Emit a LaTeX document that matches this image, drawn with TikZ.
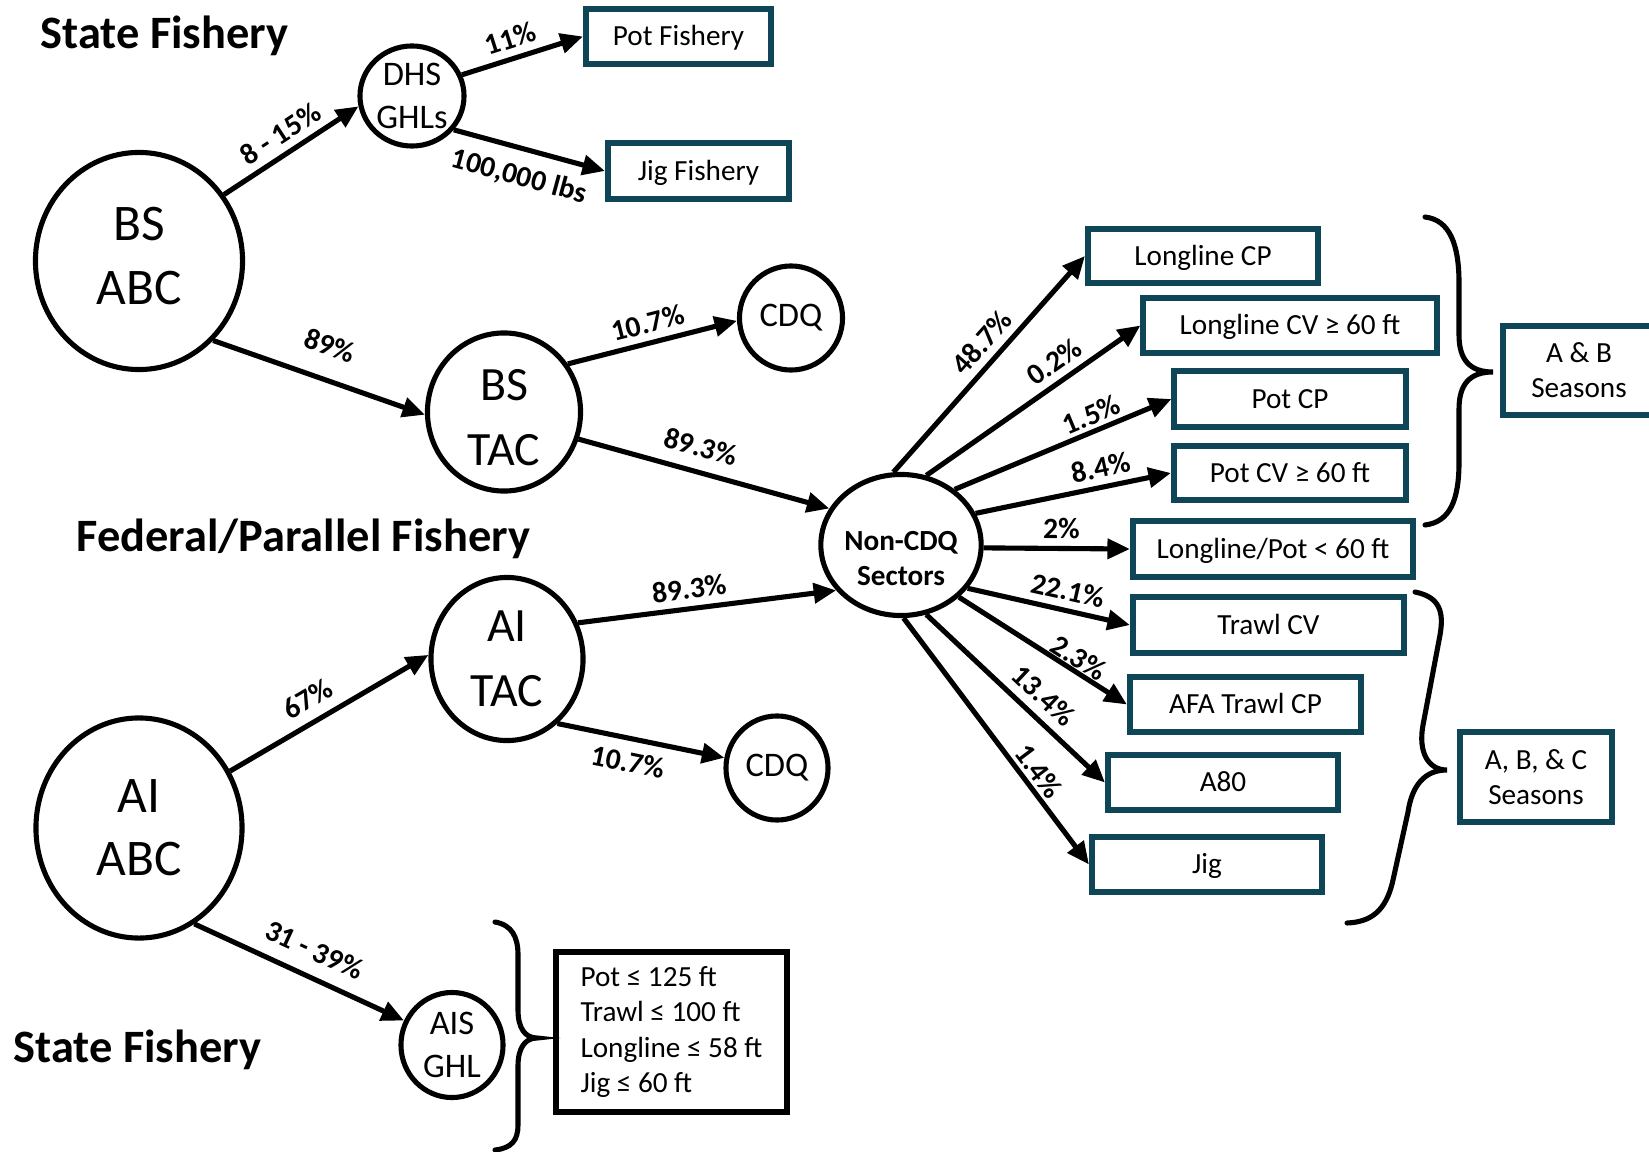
\documentclass[tikz,border=0pt]{standalone}
\usepackage{fontspec}
\setmainfont{Carlito}
\usetikzlibrary{arrows.meta,shapes.geometric}
\definecolor{boxteal}{HTML}{0E4557}

\begin{document}
\begin{tikzpicture}[x=0.01cm,y=-0.01cm,
	circ/.style={ellipse,draw,line width=1.45pt,inner sep=0pt,align=center},
	abctxt/.style={font=\fontsize{14.6}{18}\selectfont},
	tactxt/.style={font=\fontsize{13.6}{18.5}\selectfont},
	smalltxt/.style={font=\fontsize{9.8}{12.2}\selectfont},
	seasbox/.style={draw=boxteal,line width=1.7pt,inner sep=0pt,align=center,font=\fontsize{8.3}{10}\selectfont},
	sbox/.style={seasbox,text height=6.5pt,text depth=1.2pt},
	title/.style={anchor=base west,inner sep=0pt,font=\bfseries\fontsize{13.2}{16}\selectfont},
	arr/.style={line width=1.45pt,-{Triangle[length=6.4pt,width=5.6pt]}},
	lbl/.style={sloped,inner sep=2pt,font=\bfseries\fontsize{8.4}{10}\selectfont},
	brace/.style={line width=1.45pt,line cap=round}]

	\useasboundingbox (0,0) rectangle (1649,1152);

	% titles
	\node[title] (stateA) at (40,49) {State Fishery};
	\node[title] (federal) at (76,551) {Federal/Parallel Fishery};
	\node[title] (stateB) at (13,1062) {State Fishery};

	% circles
	\node[circ,abctxt,minimum width=2.07cm,minimum height=2.17cm] (bsabc) at (139,261) {BS\\ABC\rule[-3pt]{0pt}{1pt}};
	\node[circ,smalltxt,minimum width=1.04cm,minimum height=1.00cm] (dhs) at (412,96) {DHS\\GHLs};
	\node[circ,tactxt,minimum width=1.53cm,minimum height=1.58cm] (bstac) at (504,412) {\rule{0pt}{12pt}BS\\TAC};
	\node[circ,smalltxt,minimum width=1.03cm,minimum height=1.04cm] (cdqA) at (791,318) {CDQ};
	\node[circ,minimum width=1.52cm,minimum height=1.41cm,font=\bfseries\fontsize{8.3}{10}\selectfont] (noncdq) at (901,545) {\rule{0pt}{13pt}Non-CDQ\\Sectors};
	\node[circ,tactxt,minimum width=1.52cm,minimum height=1.63cm] (aitac) at (507,659) {AI\\TAC};
	\node[circ,smalltxt,minimum width=1.02cm,minimum height=1.04cm] (cdqB) at (777,768) {CDQ};
	\node[circ,abctxt,minimum width=2.06cm,minimum height=2.20cm] (aiabc) at (139,828) {AI\\ABC};
	\node[circ,smalltxt,minimum width=1.02cm,minimum height=1.05cm] (aisghl) at (452,1045) {AIS\\GHL};

	% boxes
	\node[sbox,minimum width=1.85cm,minimum height=0.55cm] (potf) at (678.5,36.5) {Pot Fishery};
	\node[sbox,minimum width=1.81cm,minimum height=0.56cm] (jigf) at (698.5,171) {Jig Fishery};
	\node[sbox,minimum width=2.30cm,minimum height=0.54cm] (llcp) at (1203,256) {Longline CP};
	\node[sbox,minimum width=2.93cm,minimum height=0.55cm] (llcv) at (1290,325.5) {Longline CV ≥ 60 ft};
	\node[sbox,minimum width=2.31cm,minimum height=0.56cm] (potcp) at (1290,399) {Pot CP};
	\node[sbox,minimum width=2.32cm,minimum height=0.54cm] (potcv) at (1290,473) {Pot CV ≥ 60 ft};
	\node[sbox,minimum width=2.80cm,minimum height=0.56cm] (llpot) at (1273,549) {Longline/Pot < 60 ft};
	\node[sbox,minimum width=2.71cm,minimum height=0.56cm] (trawlcv) at (1268.5,625) {Trawl CV};
	\node[sbox,minimum width=2.31cm,minimum height=0.55cm] (afa) at (1245.5,704.5) {AFA Trawl CP};
	\node[sbox,minimum width=2.30cm,minimum height=0.55cm] (aeighty) at (1223,782.5) {A80};
	\node[sbox,minimum width=2.30cm,minimum height=0.55cm] (jigs) at (1207,864.5) {Jig};
	\node[seasbox,minimum width=1.52cm,minimum height=0.89cm] (abseas) at (1579,370.5) {A \& B\\Seasons};
	\node[seasbox,minimum width=1.52cm,minimum height=0.90cm] (abcseas) at (1536,777) {A, B, \& C\\Seasons};
	\node[draw,line width=1.7pt,minimum width=2.31cm,minimum height=1.60cm,inner sep=0pt,
		align=left,font=\fontsize{8.3}{10}\selectfont] (gears) at (671.5,1032)
		{Pot ≤ 125 ft\\Trawl ≤ 100 ft\\Longline ≤ 58 ft\\Jig ≤ 60 ft};

	% Bering Sea side
	\draw[arr] (bsabc.38) -- node[lbl,above] {8 - 15\%} (dhs.191);
	\draw[arr] (dhs.23) -- node[lbl,above,pos=0.45] {11\%} (potf.west);
	\draw[arr] (dhs.-39) -- node[lbl,below=1.8pt,pos=0.48] {100,000 lbs} (jigf.west);
	\draw[arr] (bsabc.-47) -- node[lbl,above=4pt] {89\%} (bstac.182);
	\draw[arr] (bstac.37) -- node[lbl,above] {10.7\%} (cdqA.183);
	\draw[arr] (bstac.-20) -- node[lbl,above=1.5pt,pos=0.46] {89.3\%} (noncdq.153);

	% Aleutian Islands side
	\draw[arr] (aitac.27) -- node[lbl,above,pos=0.44] {89.3\%} (noncdq.215);
	\draw[arr] (aiabc.32) -- node[lbl,above=1pt,pos=0.45] {67\%} (aitac.177);
	\draw[arr] (aitac.-52) -- node[lbl,below=1pt,pos=0.45] {10.7\%} (cdqB.169);
	\draw[arr] (aiabc.-60) -- node[lbl,above=2pt,pos=0.52] {31 - 39\%} (aisghl.153);

	% non-CDQ sectors
	\foreach \ang/\dest/\txt/\where/\off in {96/llcp/48.7/0.54/0pt, 70/llcv/0.2/0.65/0pt,
		46/potcp/1.5/0.66/-1pt, 23/potcv/8.4/0.66/0pt, -2/llpot/2/0.53/0pt,
		-33/trawlcv/22.1/0.59/0pt, -42/afa/2.3/0.67/-1.8pt, -70/aeighty/13.4/0.575/0.5pt,
		-88/jigs/1.4/0.66/-1pt}
		\draw[arr] (noncdq.\ang) -- node[lbl,above=\off,pos=\where] {\txt\%} (\dest.west);

	% braces
	\draw[brace] (1425,217) .. controls (1450,220) and (1459,245) .. (1459,283) -- (1459,335)
		.. controls (1459,360) and (1470,372) .. (1493,372)
		.. controls (1470,372) and (1459,384) .. (1459,409) -- (1459,462)
		.. controls (1459,500) and (1450,522) .. (1425,525);
	\draw[brace] (1415,592) .. controls (1440,597) and (1444,612) .. (1440,635) -- (1423,725)
		.. controls (1418,752) and (1428,770) .. (1447,770)
		.. controls (1425,770) and (1412,785) .. (1408,812) -- (1393,880)
		.. controls (1386,912) and (1370,922) .. (1347,923);
	\draw[brace] (495,922) .. controls (512,925) and (518,937) .. (518,955) -- (518,1010)
		.. controls (518,1028) and (525,1038) .. (537,1038)
		.. controls (525,1038) and (518,1048) .. (518,1066) -- (518,1125)
		.. controls (518,1140) and (512,1148) .. (495,1150);

\end{tikzpicture}
\end{document}
